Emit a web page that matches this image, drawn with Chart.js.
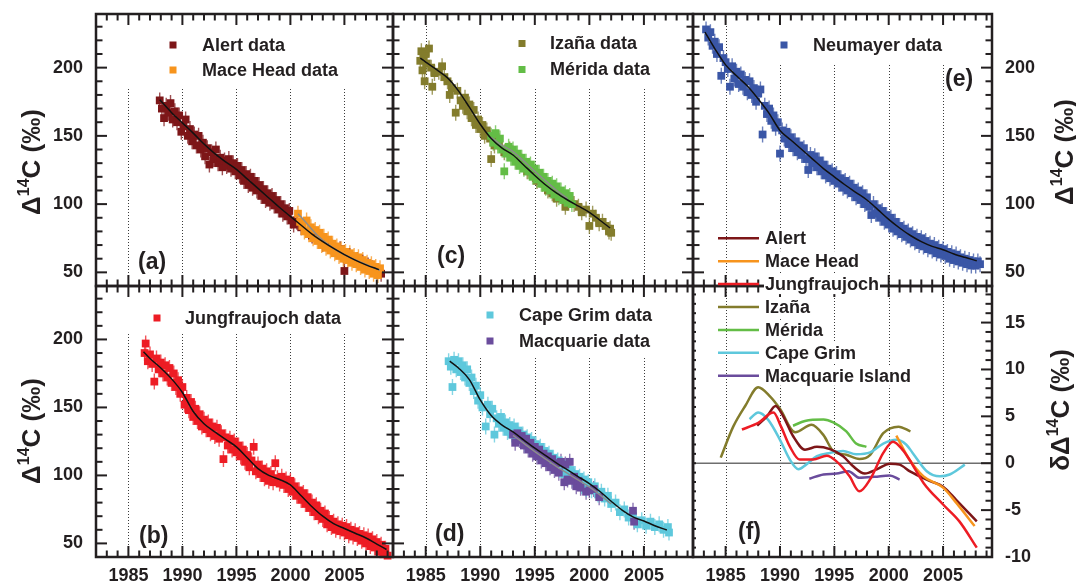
<!DOCTYPE html>
<html><head><meta charset="utf-8">
<script src="https://cdn.jsdelivr.net/npm/chart.js@4.4.1/dist/chart.umd.min.js"></script>
<style>
html,body{margin:0;padding:0;background:#fff;width:1076px;height:586px;overflow:hidden}
#root{position:relative;width:1076px;height:586px}
canvas{position:absolute}
.yt{position:absolute;z-index:20;font-family:'Liberation Sans',Arial,Helvetica,sans-serif;font-weight:bold;font-size:26px;color:#231f20;white-space:nowrap;transform:translate(-50%,-50%) rotate(-90deg);line-height:1}
.yt sup{font-size:16px;vertical-align:0;position:relative;top:-11px}
</style></head><body><div id="root">
<div class="yt" style="left:31px;top:162px">Δ<sup>14</sup>C (‰)</div>
<div class="yt" style="left:31px;top:431px">Δ<sup>14</sup>C (‰)</div>
<div class="yt" style="left:1064px;top:152px">Δ<sup>14</sup>C (‰)</div>
<div class="yt" style="left:1060px;top:410px">δΔ<sup>14</sup>C (‰)</div>
</div>
<script>
// ---------- tick labels ----------
const yearTicks = [1985, 1990, 1995, 2000, 2005];
const deltaTicks = [50, 100, 150, 200];
const devTicks = [-10, -5, 0, 5, 10, 15];

// ---------- measurement data [decimal year, Δ14C ‰] ----------
const alertData = [[1987.9,176],[1988.1,170],[1988.3,163],[1988.5,172],[1988.7,167],[1988.9,174],[1989.1,162],[1989.3,168],[1989.5,160],[1989.7,165],[1989.9,153],[1990.1,157],[1990.3,162],[1990.5,150],[1990.7,155],[1990.9,146],[1991.1,151],[1991.3,143],[1991.5,150],[1991.7,140],[1991.9,145],[1992.1,135],[1992.3,141],[1992.5,129],[1992.7,138],[1992.9,133],[1993.1,140],[1993.3,130],[1993.5,134],[1993.7,127],[1993.9,132],[1994.1,128],[1994.3,133],[1994.5,126],[1994.7,130],[1994.9,124],[1995.1,128],[1995.3,121],[1995.5,125],[1995.7,117],[1995.9,122],[1996.1,114],[1996.3,120],[1996.5,112],[1996.7,117],[1996.9,110],[1997.1,114],[1997.3,106],[1997.5,111],[1997.7,103],[1997.9,108],[1998.1,101],[1998.3,106],[1998.5,99],[1998.7,103],[1998.9,96],[1999.1,100],[1999.3,93],[1999.5,97],[1999.7,91],[1999.9,95],[2000.1,88],[2000.3,85],[2000.6,87],[2001.0,83],[2002.0,77],[2003.0,71],[2003.8,69],[2004.6,67],[2004.9,63],[2005.0,51],[2005.5,62],[2006.2,59],[2006.7,57],[2007.2,55],[2007.6,53],[2008.0,51],[2008.4,49]];
const maceData = [[2000.7,93],[2000.9,87],[2001.1,84],[2001.3,80],[2001.5,88],[2001.7,78],[2001.9,83],[2002.1,75],[2002.3,81],[2002.5,73],[2002.7,79],[2002.9,70],[2003.1,76],[2003.3,68],[2003.5,74],[2003.7,66],[2003.9,71],[2004.1,64],[2004.3,69],[2004.5,62],[2004.7,67],[2004.9,60],[2005.1,65],[2005.3,59],[2005.5,64],[2005.7,57],[2005.9,62],[2006.1,56],[2006.3,61],[2006.5,54],[2006.7,59],[2006.9,52],[2007.1,57],[2007.3,51],[2007.5,56],[2007.7,49],[2007.9,54],[2008.1,48],[2008.3,53]];
const jfjData = [[1986.5,190],[1986.6,197],[1986.8,184],[1987.0,189],[1987.2,182],[1987.4,169],[1987.6,186],[1987.8,178],[1988.0,183],[1988.2,175],[1988.4,181],[1988.6,172],[1988.8,179],[1989.0,168],[1989.2,175],[1989.4,165],[1989.6,170],[1989.8,160],[1990.0,165],[1990.2,152],[1990.4,157],[1990.6,148],[1990.8,154],[1991.0,143],[1991.2,149],[1991.4,140],[1991.6,145],[1991.8,136],[1992.0,141],[1992.2,134],[1992.4,139],[1992.6,131],[1992.8,136],[1993.0,129],[1993.2,135],[1993.4,127],[1993.6,131],[1993.8,112],[1994.0,128],[1994.2,122],[1994.4,127],[1994.6,119],[1994.8,125],[1995.0,117],[1995.2,122],[1995.4,114],[1995.6,119],[1995.8,110],[1996.0,115],[1996.2,106],[1996.4,111],[1996.6,121],[1996.8,103],[1997.0,108],[1997.2,101],[1997.4,105],[1997.6,98],[1997.8,103],[1998.0,96],[1998.2,101],[1998.4,95],[1998.6,109],[1998.8,98],[1999.0,94],[1999.2,99],[1999.4,93],[1999.6,97],[1999.8,90],[2000.0,96],[2000.2,88],[2000.4,92],[2000.6,85],[2000.8,89],[2001.0,82],[2001.2,87],[2001.4,79],[2001.6,84],[2001.8,76],[2002.0,80],[2002.2,73],[2002.4,78],[2002.6,70],[2002.8,74],[2003.0,68],[2003.2,72],[2003.4,64],[2003.6,68],[2003.8,62],[2004.0,66],[2004.2,60],[2004.4,64],[2004.6,59],[2004.8,63],[2005.0,58],[2005.2,62],[2005.4,56],[2005.6,60],[2005.8,55],[2006.0,59],[2006.2,54],[2006.4,57],[2006.6,52],[2006.8,56],[2007.0,50],[2007.2,55],[2007.4,48],[2007.6,53],[2007.8,47],[2008.0,51],[2008.2,44],[2008.4,49],[2008.6,42],[2008.8,46],[2009.0,41]];
const izaData = [[1984.5,205],[1984.6,212],[1984.7,198],[1984.8,208],[1984.9,190],[1985.0,210],[1985.1,203],[1985.3,214],[1985.5,200],[1985.6,186],[1985.8,196],[1986.2,197],[1986.5,201],[1986.7,193],[1987.0,190],[1987.2,180],[1987.4,185],[1987.75,167],[1987.9,183],[1988.2,176],[1988.4,172],[1988.6,178],[1988.8,168],[1989.0,173],[1989.2,163],[1989.4,169],[1989.6,158],[1989.8,162],[1990.0,155],[1990.2,158],[1990.4,150],[1990.6,154],[1990.9,148],[1991.0,133],[1991.3,143],[1991.7,146],[1992.2,138],[1992.7,140],[1993.3,132],[1993.8,131],[1994.3,124],[1994.8,122],[1995.2,117],[1995.7,115],[1996.2,110],[1996.6,108],[1997.0,104],[1997.4,106],[1997.8,98],[1998.2,103],[1998.6,100],[1999.0,98],[1999.3,94],[1999.7,96],[2000.0,84],[2000.3,93],[2000.6,90],[2000.9,86],[2001.2,87],[2001.5,84],[2001.8,80],[2001.9,82],[2002.0,79]];
const merData = [[1991.0,150],[1991.2,145],[1991.4,152],[1991.6,143],[1991.8,148],[1992.0,140],[1992.2,124],[1992.4,137],[1992.6,142],[1992.8,134],[1993.0,140],[1993.2,131],[1993.4,137],[1993.6,128],[1993.8,134],[1994.0,126],[1994.2,131],[1994.4,124],[1994.6,129],[1994.8,120],[1995.0,126],[1995.2,118],[1995.4,123],[1995.6,115],[1995.8,120],[1996.0,112],[1996.2,117],[1996.4,110],[1996.6,115],[1996.8,107],[1997.0,113],[1997.2,105],[1997.4,110],[1997.6,103],[1997.8,108],[1998.0,101],[1998.2,106],[1998.4,100]];
const neuData = [[1983.2,228],[1983.4,222],[1983.6,226],[1983.8,216],[1984.0,219],[1984.2,210],[1984.4,215],[1984.6,194],[1984.8,207],[1985.0,204],[1985.2,199],[1985.4,186],[1985.6,201],[1985.8,192],[1986.0,197],[1986.2,188],[1986.4,195],[1986.6,186],[1986.8,191],[1987.0,182],[1987.2,190],[1987.4,180],[1987.6,185],[1987.8,175],[1988.0,181],[1988.2,184],[1988.4,151],[1988.6,172],[1988.8,166],[1989.0,170],[1989.2,161],[1989.4,165],[1989.6,156],[1989.8,160],[1990.0,137],[1990.2,154],[1990.4,148],[1990.6,153],[1990.8,144],[1991.0,149],[1991.2,141],[1991.4,146],[1991.6,138],[1991.8,143],[1992.0,136],[1992.2,141],[1992.4,133],[1992.6,125],[1992.8,136],[1993.0,130],[1993.2,135],[1993.4,127],[1993.6,132],[1993.8,124],[1994.0,129],[1994.2,121],[1994.4,126],[1994.6,119],[1994.8,124],[1995.0,117],[1995.2,122],[1995.4,115],[1995.6,119],[1995.8,112],[1996.0,117],[1996.2,110],[1996.4,115],[1996.6,108],[1996.8,112],[1997.0,105],[1997.2,110],[1997.4,103],[1997.6,108],[1997.8,100],[1998.0,105],[1998.2,98],[1998.4,92],[1998.6,100],[1998.8,93],[1999.0,97],[1999.2,90],[1999.4,95],[1999.6,87],[1999.8,92],[2000.0,85],[2000.2,90],[2000.4,82],[2000.6,87],[2000.8,80],[2001.0,84],[2001.2,78],[2001.4,82],[2001.6,76],[2001.8,80],[2002.0,74],[2002.2,78],[2002.4,72],[2002.6,76],[2002.8,70],[2003.0,75],[2003.2,69],[2003.4,73],[2003.6,67],[2003.8,71],[2004.0,66],[2004.2,70],[2004.4,64],[2004.6,68],[2004.8,63],[2005.0,67],[2005.2,62],[2005.4,65],[2005.6,60],[2005.8,64],[2006.0,59],[2006.2,63],[2006.4,58],[2006.6,61],[2006.8,57],[2007.0,60],[2007.2,56],[2007.4,59],[2007.6,55],[2007.8,58],[2008.0,55],[2008.2,58],[2008.4,56]];
const cgData = [[1987.1,184],[1987.3,180],[1987.45,165],[1987.6,185],[1987.8,178],[1988.0,184],[1988.2,176],[1988.4,181],[1988.6,172],[1988.8,178],[1989.0,168],[1989.2,172],[1989.4,162],[1989.6,166],[1989.8,155],[1990.0,159],[1990.2,150],[1990.5,136],[1990.7,152],[1990.9,145],[1991.1,149],[1991.3,130],[1991.5,142],[1991.7,138],[1991.9,143],[1992.1,135],[1992.3,139],[1992.5,132],[1992.7,137],[1992.9,130],[1993.1,136],[1993.3,128],[1993.5,133],[1993.7,126],[1993.9,130],[1994.1,123],[1994.3,128],[1994.5,121],[1994.7,126],[1994.9,118],[1995.1,123],[1995.3,116],[1995.5,121],[1995.7,113],[1995.9,118],[1996.1,111],[1996.3,116],[1996.5,108],[1996.7,113],[1996.9,106],[1997.1,111],[1997.3,104],[1997.5,108],[1997.7,101],[1997.9,106],[1998.1,99],[1998.3,104],[1998.5,97],[1998.7,101],[1998.9,95],[1999.1,99],[1999.3,92],[1999.5,97],[1999.7,90],[1999.9,95],[2000.2,89],[2000.5,92],[2000.8,86],[2001.1,88],[2001.4,83],[2001.7,85],[2002.0,79],[2002.4,80],[2002.8,73],[2003.2,75],[2003.6,69],[2004.0,70],[2004.4,64],[2004.8,67],[2005.2,63],[2005.6,66],[2006.0,62],[2006.4,64],[2006.8,60],[2007.2,62],[2007.3,58]];
const macData = [[1993.0,130],[1993.2,124],[1993.4,131],[1993.6,126],[1993.8,129],[1994.0,122],[1994.2,127],[1994.4,119],[1994.6,124],[1994.8,116],[1995.0,121],[1995.2,114],[1995.4,119],[1995.6,111],[1995.8,116],[1996.0,109],[1996.2,114],[1996.4,106],[1996.6,112],[1996.8,104],[1997.0,109],[1997.2,102],[1997.4,110],[1997.7,95],[1997.8,108],[1998.0,97],[1998.2,110],[1998.4,96],[1998.6,99],[1998.8,92],[1999.0,96],[1999.2,91],[1999.7,88],[2000.0,89],[2000.4,90],[2000.9,84],[2004.0,74],[2004.1,66]];

// ---------- smooth fits [year, Δ14C ‰] ----------
const alertFit = [[1987.9,176.5],[1989,167],[1990,159.5],[1991,152],[1992,144],[1993,137],[1994,131],[1995,125.5],[1996,118.5],[1997,111.5],[1998,104.5],[1999,97.5],[2000,91],[2001,84.5],[2002,78],[2003,72.5],[2004,67.5],[2005,63],[2006,59],[2007,55.5],[2008.2,52]];
const maceFit = [[2000.7,93],[2001.5,86],[2002.5,77],[2004,67.5],[2005,63],[2006.5,57.5],[2008.3,51.5]];
const jfjFit = [[1986.4,191],[1987,186],[1988,179],[1989,171],[1990,161],[1991,147],[1992,138],[1993,132],[1994,126.5],[1995,121],[1996,113],[1997,105],[1998,100],[1999,97],[2000,93],[2001,85],[2002,77],[2003,70],[2004,64.5],[2005,61],[2006,57.5],[2007,54],[2008,49.5],[2008.9,45.5]];
const izaFit = [[1984.5,207],[1985,204],[1986,198.5],[1987,192.5],[1988,183],[1989,171],[1990,158.5],[1991,148],[1992,141],[1993,136],[1994,128.5],[1995,121],[1996,114],[1997,108],[1998,103],[1999,98.5],[2000,94],[2001,88],[2001.9,82.5]];
const merFit = [[1991,149],[1992,143],[1993,138.5],[1994,131.5],[1995,124],[1996,117],[1997,110],[1998,104]];
const neuFit = [[1983.1,226],[1984,214],[1985,202],[1986,194],[1987,186.5],[1988,177],[1989,166.5],[1990,154],[1991,147],[1992,140],[1993,133],[1994,126],[1995,120],[1996,114],[1997,108.5],[1998,103],[1999,96],[2000,88.8],[2001,82.5],[2002,77],[2003,72.5],[2004,69],[2005,66.5],[2006,63.5],[2007,61],[2008.1,58.5]];
const cgFit = [[1987.2,184],[1988,179],[1989,170.5],[1990,155.5],[1991,144],[1992,137],[1993,132],[1994,126],[1995,120],[1996,114.5],[1997,109],[1998,104],[1999,99],[2000,94],[2001,88],[2002,81],[2003,74.5],[2004,69.5],[2005,66.5],[2006,63],[2007.1,59.8]];
const macFit = [[1993,129.5],[1994,123.5],[1995,117.5],[1996,112],[1997,106.5],[1998,101.5],[1999,96.5],[2000,91.5],[2001,85.5],[2002,79]];

// ---------- deviations δΔ14C ‰ (panel f) ----------
const alertDev = [[1987.9,4.0],[1988.8,5.0],[1989.6,6.1],[1990.3,5.0],[1991.2,2.9],[1992.3,1.45],[1993.4,1.75],[1994.6,1.5],[1995.8,0.75],[1996.7,-0.3],[1997.8,-1.1],[1998.9,-0.65],[2000.1,-0.05],[2001.0,-0.15],[2002.0,-0.9],[2003.8,-1.9],[2005.0,-2.5],[2006.2,-3.9],[2008.1,-6.2]];
const maceDev = [[2000.7,2.95],[2001.9,0.4],[2003.2,-1.4],[2005.0,-2.6],[2006.2,-4.2],[2007.9,-6.7]];
const jfjDev = [[1986.5,3.6],[1988.0,4.3],[1989.4,5.4],[1990.1,3.9],[1990.9,1.8],[1991.8,0.4],[1993.05,0.4],[1994.3,0.8],[1995.2,0.2],[1996.4,-1.4],[1997.3,-3.0],[1998.3,-1.7],[1999.5,1.1],[2000.4,2.3],[2001.3,1.4],[2001.9,0.4],[2003.2,-2.1],[2005.0,-4.4],[2006.5,-6.2],[2008.1,-9.0]];
const izaDev = [[1984.55,0.6],[1985.7,3.9],[1986.8,6.1],[1988.0,8.1],[1989.1,7.1],[1990.0,5.8],[1991.4,3.3],[1992.9,4.1],[1994.0,3.0],[1994.9,1.3],[1996.1,0.9],[1997.3,0.45],[1998.3,0.9],[1999.5,3.2],[2000.9,3.9],[2002.0,3.4]];
const merDev = [[1991.2,4.0],[1992.3,4.5],[1994.0,4.65],[1994.9,4.35],[1996.1,3.4],[1997.0,2.1],[1997.95,1.75]];
const cgDev = [[1987.2,4.7],[1988.0,5.4],[1988.9,4.65],[1990.0,2.5],[1990.9,0.4],[1991.7,-0.65],[1992.4,-0.15],[1993.4,0.75],[1994.6,1.1],[1995.8,1.3],[1997.0,0.95],[1998.3,1.15],[1999.5,2.1],[2000.7,2.5],[2001.6,2.0],[2002.2,1.1],[2003.5,-0.85],[2004.7,-1.4],[2005.6,-1.2],[2007.0,-0.15]];
const macDev = [[1992.7,-1.65],[1994.0,-1.2],[1995.2,-1.1],[1996.3,-0.85],[1997.3,-1.55],[1998.7,-1.45],[2000.1,-1.3],[2001.0,-1.75]];

// ---------- styles ----------
const FONT = "'Liberation Sans', Arial, Helvetica, sans-serif";
const INK = '#231f20';
const C_ALERT = '#7d1618', C_MACE = '#f7941d', C_JFJ = '#ed1c24', C_IZA = '#837c2c',
      C_MER = '#63bd46', C_NEU = '#3a56a6', C_CG = '#5ec8dc', C_MAC = '#6a4c9c';
const X_MIN = 1982, X_MAX = 2009.5;

Chart.defaults.font.family = FONT;
Chart.defaults.font.weight = 'bold';
Chart.defaults.font.size = 18;
Chart.defaults.color = INK;

function pts(pairs, color, order) {
  return { data: pairs.map(([x, y]) => ({x, y})), backgroundColor: color, pointStyle: 'rect',
    pointRadius: 5.5, pointHoverRadius: 5.5, borderWidth: 0, order, errPx: 8, clip: 3 };
}
function curve(pairs, color, width, order) {
  return { data: pairs.map(([x, y]) => ({x, y})), showLine: true, borderColor: color, borderWidth: width,
    pointRadius: 0, pointHoverRadius: 0, cubicInterpolationMode: 'monotone', fill: false, order, clip: 2 };
}

function makeFrame(p) {
  const f = p.frame;
  return {
    id: 'frame_' + p.id,
    beforeDatasetsDraw(chart) {
      const {ctx, chartArea: a} = chart;
      const x = chart.scales.x, y = chart.scales.y;
      ctx.save();
      ctx.beginPath(); ctx.rect(a.left, a.top, a.right - a.left, a.bottom - a.top); ctx.clip();
      ctx.strokeStyle = '#3a3a3a'; ctx.lineWidth = 1; ctx.setLineDash([1, 2]);
      yearTicks.forEach(yr => {
        const px = Math.round(x.getPixelForValue(yr)) + 0.5;
        ctx.beginPath(); ctx.moveTo(px, a.top + f.gridTop); ctx.lineTo(px, a.bottom); ctx.stroke();
      });
      ctx.setLineDash([]);
      if (f.zero) {
        const py = y.getPixelForValue(0);
        ctx.strokeStyle = '#6e6e6e'; ctx.lineWidth = 1.5;
        ctx.beginPath(); ctx.moveTo(a.left, py); ctx.lineTo(a.right, py); ctx.stroke();
      }
      if (f.box) {
        ctx.fillStyle = '#fff';
        ctx.fillRect(a.left + f.box.left, a.top + 12, a.right - 3 - (a.left + f.box.left), f.box.bottom - 12);
      }
      chart.data.datasets.forEach((ds, i) => {
        if (!ds.errPx) return;
        const meta = chart.getDatasetMeta(i);
        ctx.strokeStyle = ds.backgroundColor; ctx.globalAlpha = 0.75; ctx.lineWidth = 1.4;
        ctx.beginPath();
        meta.data.forEach(el => { ctx.moveTo(el.x, el.y - ds.errPx); ctx.lineTo(el.x, el.y + ds.errPx); });
        ctx.stroke();
      });
      ctx.restore();
    },
    afterDraw(chart) {
      const {ctx, chartArea: a} = chart;
      const x = chart.scales.x, y = chart.scales.y;
      ctx.save();
      ctx.setLineDash([]);
      ctx.globalAlpha = 1;
      ctx.fillStyle = INK;
      const xLo = Math.ceil(x.getValueForPixel(a.left)), xHi = Math.floor(x.getValueForPixel(a.right));
      for (let yr = xLo; yr <= xHi; yr++) {
        const px = x.getPixelForValue(yr);
        const len = yr % 5 === 0 ? 11 : 6.5;
        ctx.fillRect(px - 1, a.top, 2, len);
        ctx.fillRect(px - 1, a.bottom - len, 2, len);
      }
      const yLo = y.getValueForPixel(a.bottom), yHi = y.getValueForPixel(a.top);
      for (let k = Math.ceil(yLo / f.yMinor); k * f.yMinor <= yHi; k++) {
        const v = k * f.yMinor;
        const py = y.getPixelForValue(v);
        if (py > a.bottom - 2 || py < a.top + 2) continue;
        const major = Math.abs(v % f.yMajor) < 1e-9;
        const len = major ? 11 : 6.5;
        if (f.left === 'full') ctx.fillRect(a.left, py - 1, len, 2);
        else if (f.left === 'tiny') ctx.fillRect(a.left, py - 1, 3, 2);
        if (f.right === 'full') ctx.fillRect(a.right - len, py - 1, len, 2);
      }
      ctx.strokeStyle = INK; ctx.lineWidth = 2.5;
      ctx.strokeRect(a.left, a.top, a.right - a.left, a.bottom - a.top);
      ctx.fillStyle = INK; ctx.textAlign = 'left'; ctx.textBaseline = 'middle';
      ctx.font = 'bold 23px ' + FONT;
      ctx.fillText(f.letter, a.left + f.letterDx, a.top + f.letterDy);
      ctx.font = 'bold 18px ' + FONT;
      f.legend.forEach((it, i) => {
        const my = a.top + f.legY + i * f.legStep;
        if (f.legType === 'point') {
          ctx.fillStyle = it.color; ctx.fillRect(a.left + f.legMx - 3.5, my - 3.5, 7, 7);
        } else {
          ctx.strokeStyle = it.color; ctx.lineWidth = 2.5;
          ctx.beginPath(); ctx.moveTo(a.left + f.legX1, my); ctx.lineTo(a.left + f.legX2, my); ctx.stroke();
        }
        const tx = a.left + f.legTx;
        if (f.legBg) {
          const w = ctx.measureText(it.label).width;
          ctx.fillStyle = '#fff'; ctx.fillRect(tx - 1, my - 10, w + 2, 20);
        }
        ctx.fillStyle = INK; ctx.fillText(it.label, tx, my + 1);
      });
      ctx.restore();
    }
  };
}

function zeroPad(s) { s.paddingTop = 0; s.paddingBottom = 0; s.paddingLeft = 0; s.paddingRight = 0; }

function buildPanel(p) {
  const canvas = document.createElement('canvas');
  const cl = p.L - p.mL, ct = p.T - p.mT;
  const w = p.R - p.L + p.mL + p.mR, h = p.B - p.T + p.mT + p.mB;
  canvas.width = w; canvas.height = h;
  Object.assign(canvas.style, {left: cl + 'px', top: ct + 'px', width: w + 'px', height: h + 'px', zIndex: p.z || 1});
  document.getElementById('root').appendChild(canvas);
  const yLeft = p.yLabels === 'left', yRight = p.yLabels === 'right';
  new Chart(canvas, {
    type: 'scatter',
    data: { datasets: p.datasets },
    options: {
      responsive: false, animation: false, events: [],
      layout: { autoPadding: false, padding: { left: yLeft ? 0 : p.mL, right: yRight ? 0 : p.mR, top: p.mT, bottom: p.xLabels ? 0 : p.mB } },
      plugins: { legend: { display: false }, tooltip: { enabled: false } },
      scales: {
        x: { type: 'linear', min: X_MIN, max: X_MAX, display: !!p.xLabels,
             grid: { display: false, drawTicks: false }, border: { display: false },
             afterBuildTicks: s => { s.ticks = yearTicks.map(v => ({value: v})); },
             afterFit: s => { zeroPad(s); if (p.xLabels) s.height = p.mB; },
             ticks: { padding: 8, autoSkip: false, maxRotation: 0, color: INK, callback: v => String(v) } },
        y: { type: 'linear', position: yRight ? 'right' : 'left', min: p.yMin, max: p.yMax, display: yLeft || yRight,
             grid: { display: false, drawTicks: false }, border: { display: false },
             afterBuildTicks: s => { s.ticks = p.yTicks.map(v => ({value: v})); },
             afterFit: s => { zeroPad(s); if (yLeft) s.width = p.mL; if (yRight) s.width = p.mR; },
             ticks: { padding: 13, autoSkip: false, color: INK, callback: v => String(v) } }
      }
    },
    plugins: [makeFrame(p)]
  });
}

const dFrame = { yMinor: 10, yMajor: 50, gridTop: 12 };
const panels = [
  { id: 'a', L: 96, T: 14, R: 393, B: 286, mL: 96, mR: 8, mT: 8, mB: 8, yLabels: 'left', xLabels: false,
    yMin: 40, yMax: 239.3, yTicks: deltaTicks,
    datasets: [curve(alertFit, '#111', 1.5, 0), curve(maceFit, '#8c8c8c', 1.5, 1), pts(maceData, C_MACE, 2), pts(alertData, C_ALERT, 3)],
    frame: Object.assign({}, dFrame, { left: 'full', right: 'full', box: {left: 20, bottom: 74}, letter: '(a)', letterDx: 42, letterDy: 249,
      legType: 'point', legMx: 77, legTx: 106, legY: 31, legStep: 25,
      legend: [{label: 'Alert data', color: C_ALERT}, {label: 'Mace Head data', color: C_MACE}] }) },
  { id: 'c', L: 393, T: 14, R: 693, B: 286, mL: 8, mR: 8, mT: 8, mB: 8, yLabels: null, xLabels: false,
    yMin: 40, yMax: 239.3, yTicks: deltaTicks,
    datasets: [curve(izaFit, '#111', 1.5, 0), curve(merFit, '#8c8c8c', 1.5, 1), pts(merData, C_MER, 2), pts(izaData, C_IZA, 3)],
    frame: Object.assign({}, dFrame, { left: 'full', right: 'full', box: {left: 60, bottom: 73}, letter: '(c)', letterDx: 44, letterDy: 243,
      legType: 'point', legMx: 129, legTx: 157, legY: 29.5, legStep: 26,
      legend: [{label: 'Izaña data', color: C_IZA}, {label: 'Mérida data', color: C_MER}] }) },
  { id: 'e', L: 693, T: 14, R: 992, B: 286, mL: 8, mR: 84, mT: 8, mB: 8, yLabels: 'right', xLabels: false,
    yMin: 40, yMax: 239.3, yTicks: deltaTicks,
    datasets: [curve(neuFit, '#111', 1.5, 0), pts(neuData, C_NEU, 2)],
    frame: Object.assign({}, dFrame, { left: 'full', right: 'full', box: {left: 60, bottom: 49}, letter: '(e)', letterDx: 252, letterDy: 66,
      legType: 'point', legMx: 91, legTx: 120, legY: 31, legStep: 25,
      legend: [{label: 'Neumayer data', color: C_NEU}] }) },
  { id: 'b', L: 96, T: 286, R: 393, B: 557, mL: 96, mR: 8, mT: 8, mB: 29, yLabels: 'left', xLabels: true,
    yMin: 40, yMax: 239.3, yTicks: deltaTicks,
    datasets: [curve(jfjFit, '#111', 1.5, 0), pts(jfjData, C_JFJ, 2)],
    frame: Object.assign({}, dFrame, { left: 'full', right: 'full', box: {left: 20, bottom: 47}, letter: '(b)', letterDx: 43, letterDy: 251,
      legType: 'point', legMx: 61, legTx: 89, legY: 32, legStep: 25,
      legend: [{label: 'Jungfraujoch data', color: C_JFJ}] }) },
  { id: 'd', L: 393, T: 286, R: 693, B: 557, mL: 8, mR: 8, mT: 8, mB: 29, yLabels: null, xLabels: true,
    yMin: 40, yMax: 239.3, yTicks: deltaTicks,
    datasets: [curve(cgFit, '#111', 1.5, 0), curve(macFit, '#8c8c8c', 1.5, 1), pts(macData, C_MAC, 2), pts(cgData, C_CG, 3)],
    frame: Object.assign({}, dFrame, { left: 'full', right: 'none', box: {left: 60, bottom: 72}, letter: '(d)', letterDx: 42, letterDy: 249,
      legType: 'point', legMx: 97, legTx: 126, legY: 29, legStep: 26,
      legend: [{label: 'Cape Grim data', color: C_CG}, {label: 'Macquarie data', color: C_MAC}] }) },
  { id: 'f', L: 693, T: 286, R: 992, B: 557, mL: 8, mR: 84, mT: 75, mB: 29, yLabels: 'right', xLabels: true, z: 5,
    yMin: -10, yMax: 18.9, yTicks: devTicks,
    datasets: [curve(jfjDev, C_JFJ, 2.5, 0), curve(maceDev, C_MACE, 2.5, 1), curve(alertDev, C_ALERT, 2.5, 2),
               curve(cgDev, C_CG, 2.5, 3), curve(macDev, C_MAC, 2.5, 4), curve(merDev, C_MER, 2.5, 5), curve(izaDev, C_IZA, 2.5, 6)],
    frame: { yMinor: 1, yMajor: 5, gridTop: 0, zero: true, left: 'tiny', right: 'full', box: null, letter: '(f)', letterDx: 45, letterDy: 247,
      legType: 'line', legX1: 25, legX2: 66, legTx: 72, legY: -47.7, legStep: 22.9, legBg: true,
      legend: [{label: 'Alert', color: C_ALERT}, {label: 'Mace Head', color: C_MACE}, {label: 'Jungfraujoch', color: C_JFJ},
               {label: 'Izaña', color: C_IZA}, {label: 'Mérida', color: C_MER}, {label: 'Cape Grim', color: C_CG},
               {label: 'Macquarie Island', color: C_MAC}] } }
];
panels.forEach(buildPanel);
</script>
</body></html>
